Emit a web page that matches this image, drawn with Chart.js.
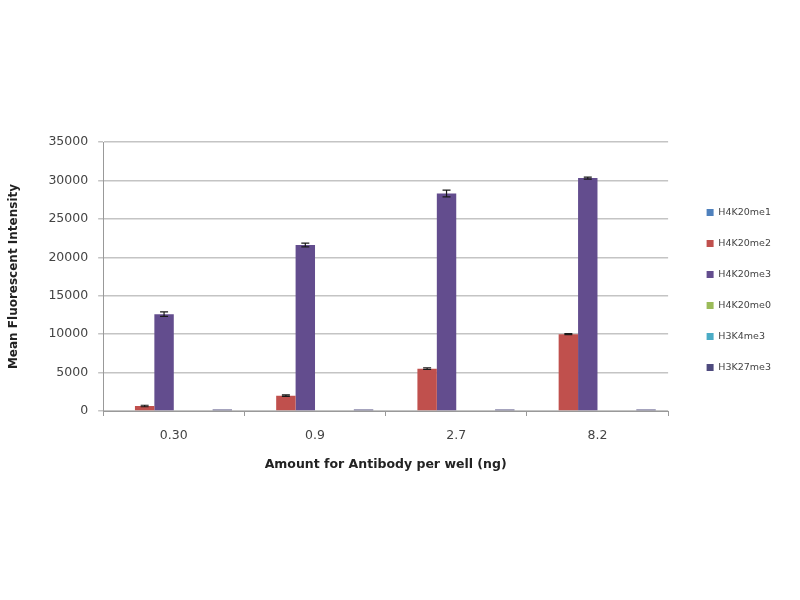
<!DOCTYPE html>
<html>
<head>
<meta charset="utf-8">
<script src="https://cdn.jsdelivr.net/npm/chart.js@4.4.1/dist/chart.umd.min.js"></script>
<style>
  html, body { margin: 0; padding: 0; background: #fff; }
  #wrap { width: 800px; height: 600px; }
</style>
</head>
<body>
<div id="wrap"><canvas id="chart" width="800" height="600"></canvas></div>
<script>
// Amount of antibody per well (ng)
const doses = ['0.30', '0.9', '2.7', '8.2'];

// Mean fluorescent intensity per peptide
const h4k20me1 = [0, 0, 0, 0];
const h4k20me2 = [650, 2000, 5500, 10000];
const h4k20me3 = [12600, 21600, 28300, 30300];
const h4k20me0 = [0, 0, 0, 0];
const h3k4me3 = [0, 0, 0, 0];
const h3k27me3 = [200, 200, 200, 200];

// Error bar half-heights
const errMe2 = [100, 100, 100, 80];
const errMe3 = [300, 250, 450, 120];

const yTicks = [0, 5000, 10000, 15000, 20000, 25000, 30000, 35000];

// draw error bars on top of bars
const errorBars = {
  id: 'errorBars',
  afterDatasetsDraw(chart) {
    const ctx = chart.ctx;
    const y = chart.scales.y;
    chart.data.datasets.forEach((ds, di) => {
      if (!ds.errors) return;
      const meta = chart.getDatasetMeta(di);
      meta.data.forEach((bar, i) => {
        const v = ds.data[i];
        const e = ds.errors[i];
        const top = y.getPixelForValue(v + e);
        const bot = y.getPixelForValue(v - e);
        ctx.save();
        ctx.strokeStyle = '#1a1a1a';
        ctx.lineWidth = 1.2;
        ctx.beginPath();
        ctx.moveTo(bar.x, top); ctx.lineTo(bar.x, bot);
        ctx.moveTo(bar.x - 4, top); ctx.lineTo(bar.x + 4, top);
        ctx.moveTo(bar.x - 4, bot); ctx.lineTo(bar.x + 4, bot);
        ctx.stroke();
        ctx.restore();
      });
    });
  }
};

// leave a gap between plot and legend, and sit the legend a bit above centre
const legendGap = {
  id: 'legendGap',
  beforeInit(chart) {
    const lg = chart.legend;
    if (!lg) return;
    const fit = lg.fit;
    lg.fit = function () {
      fit.call(this);
      this.width += 16;
    };
  },
  afterLayout(chart) {
    const lg = chart.legend;
    if (!lg) return;
    lg.left += 17;
    lg.right += 17;
    const dy = 290 - (lg.top + lg.bottom) / 2;
    lg.top += dy;
    lg.bottom += dy;
  }
};

new Chart(document.getElementById('chart'), {
  type: 'bar',
  data: {
    labels: doses,
    datasets: [
      { label: 'H4K20me1', data: h4k20me1, backgroundColor: '#4F81BD' },
      { label: 'H4K20me2', data: h4k20me2, backgroundColor: '#C0504D', errors: errMe2 },
      { label: 'H4K20me3', data: h4k20me3, backgroundColor: '#634D8E', errors: errMe3 },
      { label: 'H4K20me0', data: h4k20me0, backgroundColor: '#9BBB59' },
      { label: 'H3K4me3', data: h3k4me3, backgroundColor: '#4BACC6' },
      { label: 'H3K27me3', data: h3k27me3, backgroundColor: '#4E4A7E' }
    ]
  },
  options: {
    responsive: false,
    animation: false,
    layout: { padding: { top: 142, bottom: 124, left: 3, right: 20 } },
    datasets: {
      bar: { categoryPercentage: 0.825, barPercentage: 1.0 }
    },
    plugins: {
      legend: {
        position: 'right',
        align: 'center',
        labels: {
          boxWidth: 7,
          boxHeight: 7,
          padding: 21.5,
          color: '#444',
          font: { family: 'DejaVu Sans', size: 9.5 }
        }
      },
      tooltip: { enabled: false }
    },
    scales: {
      x: {
        grid: {
          offset: true,
          drawOnChartArea: false,
          drawTicks: true,
          tickLength: 5,
          color: '#999'
        },
        border: { color: '#999' },
        ticks: { color: '#444', font: { family: 'DejaVu Sans', size: 12.5 }, padding: 12 },
        title: {
          display: true,
          text: 'Amount for Antibody per well (ng)',
          color: '#222',
          font: { family: 'DejaVu Sans', size: 12.5, weight: 'bold' },
          padding: { top: 2 }
        }
      },
      y: {
        min: 0,
        max: 35000,
        afterBuildTicks: (axis) => { axis.ticks = yTicks.map(v => ({ value: v })); },
        grid: { color: '#c4c4c4', lineWidth: 1.5, tickLength: 5 },
        border: { color: '#999' },
        ticks: {
          color: '#444',
          font: { family: 'DejaVu Sans', size: 12.5 },
          padding: 10,
          callback: (v) => String(v)
        },
        title: {
          display: true,
          text: 'Mean Fluorescent Intensity',
          color: '#222',
          font: { family: 'DejaVu Sans', size: 12, weight: 'bold' },
          padding: { bottom: 17 }
        }
      }
    }
  },
  plugins: [errorBars, legendGap]
});
</script>
</body>
</html>
